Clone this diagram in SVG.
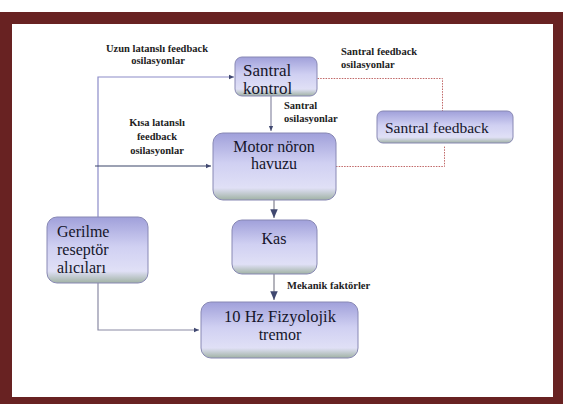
<svg xmlns="http://www.w3.org/2000/svg" width="568" height="404" viewBox="0 0 568 404">
<defs>
<linearGradient id="g" x1="0" y1="0" x2="0" y2="1">
<stop offset="0" stop-color="#a0a0da"/>
<stop offset="0.45" stop-color="#d0d0f2"/>
<stop offset="0.82" stop-color="#e0e0f6"/>
<stop offset="1" stop-color="#a0b2a4"/>
</linearGradient>
<marker id="a" viewBox="0 0 8 8" refX="7" refY="4" markerWidth="5" markerHeight="5" orient="auto">
<path d="M0,1 L7,4 L0,7 z" fill="#404870"/>
</marker>
<style>
.box{fill:url(#g);stroke:#8888b4;stroke-width:1}
.nt{font-family:'Liberation Serif','Times New Roman','DejaVu Serif',serif;font-size:16px;fill:#15152a}
.lb{font-family:'Liberation Serif','Times New Roman','DejaVu Serif',serif;font-size:10.5px;font-weight:bold;fill:#222}
.c{fill:none;stroke:#8a8aa4;stroke-width:1.2}
.r{fill:none;stroke:#c06868;stroke-width:1;stroke-dasharray:1.5 1.2}
</style>
</defs>
<rect x="0" y="0" width="568" height="404" fill="#fff"/>
<rect x="0" y="12" width="563" height="392" fill="#682222"/>
<rect x="12" y="24" width="541" height="373" fill="#fff"/>

<g id="connectors">
<path class="c" d="M98,217 V77 H234" marker-end="url(#a)" style="stroke:#8c8cc8"/>
<path class="c" d="M95,166 H211" marker-end="url(#a)" style="stroke:#3a4468"/>
<path class="c" d="M271,96 V131" marker-end="url(#a)"/>
<path class="c" d="M274,200 V218" marker-end="url(#a)" style="stroke:#b4b4bc;stroke-width:2"/>
<path class="c" d="M274,274 V300" marker-end="url(#a)" style="stroke:#b4b4bc;stroke-width:2"/>
<path class="c" d="M98,283 V330 H199" marker-end="url(#a)"/>
<path class="r" d="M304,78.5 H442.5 V111"/>
<path class="r" d="M336,166.5 H444.5 V146"/>
<text class="lb" x="157" y="52" text-anchor="middle">Uzun latanslı  feedback</text>
<text class="lb" x="158" y="64" text-anchor="middle">osilasyonlar</text>
<text class="lb" x="341" y="55">Santral feedback</text>
<text class="lb" x="341" y="68">osilasyonlar</text>
<text class="lb" x="284" y="109">Santral</text>
<text class="lb" x="284" y="122">osilasyonlar</text>
<text class="lb" x="157" y="126" text-anchor="middle">Kısa latanslı</text>
<text class="lb" x="157" y="140" text-anchor="middle">feedback</text>
<text class="lb" x="157" y="154" text-anchor="middle">osilasyonlar</text>
<text class="lb" x="287" y="289">Mekanik faktörler</text>
</g>

<g id="santral-kontrol">
<rect class="box" x="235" y="57" width="82" height="39" rx="7"/>
<text class="nt" x="243" y="76" style="font-size:17px">Santral</text>
<text class="nt" x="243" y="94" style="font-size:17px">kontrol</text>
</g>
<g id="santral-feedback">
<rect class="box" x="377" y="111" width="136" height="32" rx="6"/>
<text class="nt" x="385" y="133" style="font-size:15.5px">Santral feedback</text>
</g>
<g id="motor-noron">
<rect class="box" x="213" y="133" width="123" height="67" rx="10"/>
<text class="nt" x="274" y="152" text-anchor="middle">Motor nöron</text>
<text class="nt" x="274" y="169" text-anchor="middle">havuzu</text>
</g>
<g id="gerilme">
<rect class="box" x="47" y="217" width="101" height="66" rx="10"/>
<text class="nt" x="57" y="237">Gerilme</text>
<text class="nt" x="57" y="255">reseptör</text>
<text class="nt" x="57" y="273">alıcıları</text>
</g>
<g id="kas">
<rect class="box" x="232" y="220" width="85" height="54" rx="10"/>
<text class="nt" x="274" y="244" text-anchor="middle">Kas</text>
</g>
<g id="tremor">
<rect class="box" x="201" y="302" width="157" height="56" rx="10"/>
<text class="nt" x="280" y="322" text-anchor="middle" style="font-size:16.5px">10 Hz Fizyolojik</text>
<text class="nt" x="280" y="340" text-anchor="middle">tremor</text>
</g>
</svg>
